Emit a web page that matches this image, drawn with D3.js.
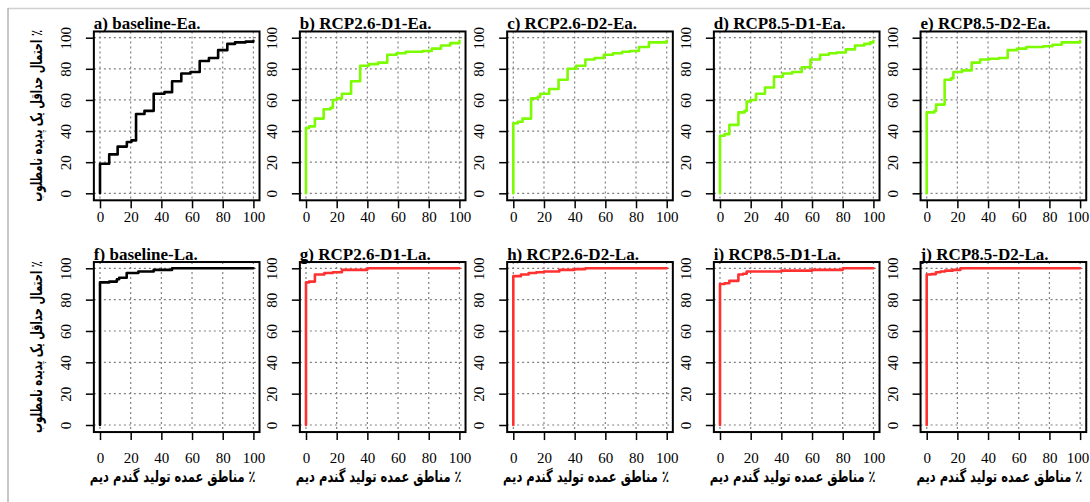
<!DOCTYPE html>
<html><head><meta charset="utf-8">
<script src="https://cdn.jsdelivr.net/npm/d3@7"></script>
<style>body{margin:0;background:#fff} svg{display:block}</style>
</head><body><svg id="c" width="1090" height="502"></svg>
<script>
// ---------------- data ----------------
const panelTitles = ["a) baseline-Ea.","b) RCP2.6-D1-Ea.","c) RCP2.6-D2-Ea.","d) RCP8.5-D1-Ea.","e) RCP8.5-D2-Ea.",
                     "f) baseline-La.","g) RCP2.6-D1-La.","h) RCP2.6-D2-La.","i) RCP8.5-D1-La.","j) RCP8.5-D2-La."];
const xTicks = [0,20,40,60,80,100];
const yTicks = [0,20,40,60,80,100];
const yAxisTitle = "٪ احتمال حداقل یک پدیده نامطلوب";
const xAxisTitle = "٪ مناطق عمده تولید گندم دیم";

// step points [x, y]: y holds from x until the next point
const baselineEa = [[0,0],[0,19],[6,25],[11.5,30],[17.5,33],[20.5,34],[23.5,51],[29,53],[35,64],[42,65],[47,72],[53,77],[59,78],[65,85],[71,87],[77,92],[83,96],[88,97],[95,97.5],[100,98]];
const rcp26D1Ea = [[0,0],[0,42],[2,43],[5.8,48],[11.5,54],[16,55],[17.5,60],[20,61],[23.4,64],[29.4,72],[35.3,82],[41,83],[47,84],[53,89],[59,90],[65,91],[76,91.5],[82,93],[88,95],[94,96.5],[100,98]];
const rcp26D2Ea = [[0,0],[0,45],[3,46],[6,48],[11.6,61],[16,62],[17.5,64],[23.4,67],[29.5,73],[35.4,80],[41,82],[47,86],[53,87],[59,89],[65,90],[71,91],[76,91.5],[81.9,94],[88.4,97],[100,98]];
const rcp85D1Ea = [[0,0],[0,37],[3,38],[6.1,44],[12,52],[16,53],[17.4,59],[20,60],[23.5,64],[29.3,68],[35.2,75],[41,77],[47,78],[53.3,81],[59,86],[65.2,89],[71,90],[76,90.5],[82,92.5],[88,95],[94,96],[98,97],[100,98]];
const rcp85D2Ea = [[0,0],[0,52],[5,53],[6.1,57],[11.7,73],[16,74],[17.4,78],[23,79],[29.3,84],[34.8,86],[41,86.5],[47,87],[52.8,92],[59,93],[65,94],[76,94.5],[82,95.5],[88,97],[100,98]];
const baselineLa = [[0,0],[0,91],[6,91.5],[11,93],[12.5,94],[17.4,97],[25,98],[35,99],[47,100],[100,100]];
const rcp26D1La = [[0,0],[0,91],[2,91.5],[5.8,96],[12,97],[17.5,97.5],[23.4,99],[40,100],[100,100]];
const rcp26D2La = [[0,0],[0,95],[5,96],[10,97],[15,97.5],[20,98],[30,99],[40,99.5],[47,100],[100,100]];
const rcp85D1La = [[0,0],[0,90],[3,90.5],[6.1,92],[12,96],[15,96.5],[17.4,98],[40,98.5],[60,99],[80,100],[100,100]];
const rcp85D2La = [[0,0],[0,96],[3,96.3],[6,97.5],[9,98],[12,98.5],[17,99],[22,100],[100,100]];

const series = [baselineEa, rcp26D1Ea, rcp26D2Ea, rcp85D1Ea, rcp85D2Ea,
                baselineLa, rcp26D1La, rcp26D2La, rcp85D1La, rcp85D2La];

// ---------------- layout / style ----------------
const colX0 = [100, 306, 513.3, 720, 926.7];
const xSpan = 153.4;
const rowY = [{y0:193.3, y100:37.7, lab:16.5}, {y0:425, y100:268.3, lab:26}];
const lineColors = ["#000000","#7CFC00","#7CFC00","#7CFC00","#7CFC00",
                    "#000000","#FF3030","#FF3030","#FF3030","#FF3030"];
const serif = "Liberation Serif, Times New Roman, serif";
const arab = "DejaVu Sans, sans-serif";

const svg = d3.select("#c");

// outer frame
svg.append("line").attr("x1",8).attr("x2",1090).attr("y1",8.5).attr("y2",8.5).attr("stroke","#d0d0d0").attr("stroke-width",1.5);
svg.append("line").attr("x1",8).attr("x2",8).attr("y1",8).attr("y2",502).attr("stroke","#b4b4b4").attr("stroke-width",1.5);

// horizontally compress a text to a target length (keeps glyph height)
function squeeze(sel, baseTransform, target){
  const w = sel.node().getComputedTextLength();
  const s = w > 0 ? Math.min(1, target / w) : 1;
  sel.attr("transform", `${baseTransform} scale(${s.toFixed(4)},1)`);
}

series.forEach((data, i) => {
  const col = i % 5, row = Math.floor(i / 5);
  const R = rowY[row];
  const x = d3.scaleLinear().domain([0,100]).range([colX0[col], colX0[col] + xSpan]);
  const y = d3.scaleLinear().domain([0,100]).range([R.y0, R.y100]);
  const bx0 = x(-4), bx1 = x(104), by0 = y(-4.5), by1 = y(104);
  const g = svg.append("g");

  // grid (dotted)
  g.selectAll("line.gx").data(xTicks).join("line")
    .attr("x1", d => x(d)).attr("x2", d => x(d)).attr("y1", by1).attr("y2", by0)
    .attr("stroke","#808080").attr("stroke-width",1.2).attr("stroke-dasharray","2,3");
  g.selectAll("line.gy").data(yTicks).join("line")
    .attr("y1", d => y(d)).attr("y2", d => y(d)).attr("x1", bx0).attr("x2", bx1)
    .attr("stroke","#808080").attr("stroke-width",1.2).attr("stroke-dasharray","2,3");

  // step line
  const line = d3.line().x(d => x(d[0])).y(d => y(d[1])).curve(d3.curveStepAfter);
  g.append("path").datum(data).attr("d", line)
    .attr("fill","none").attr("stroke", lineColors[i]).attr("stroke-width",2.6)
    .attr("stroke-linejoin","round").attr("stroke-linecap","round");

  // box
  g.append("rect").attr("x", bx0).attr("y", by1).attr("width", bx1 - bx0).attr("height", by0 - by1)
    .attr("fill","none").attr("stroke","#000").attr("stroke-width",2);

  // x axis
  const ax = g.append("g").attr("transform", `translate(0,${by0})`)
    .call(d3.axisBottom(x).tickValues(xTicks).tickSize(8).tickSizeOuter(0))
    .attr("font-family", serif).attr("font-size", 15);
  ax.select(".domain").remove();
  ax.selectAll(".tick line").attr("stroke","#000").attr("stroke-width",1.5);
  ax.selectAll(".tick text").attr("y", R.lab).attr("dy","0.35em").attr("fill","#000")
    .attr("dx", d => (col === 4 && d === 100) ? -2.5 : 0);

  // y axis
  const ay = g.append("g").attr("transform", `translate(${bx0},0)`)
    .call(d3.axisLeft(y).tickValues(yTicks).tickSize(8).tickSizeOuter(0))
    .attr("font-family", serif).attr("font-size", 15);
  ay.select(".domain").remove();
  ay.selectAll(".tick line").attr("stroke","#000").attr("stroke-width",1.5);
  ay.selectAll(".tick text").attr("x",0).attr("dy","0.35em").attr("text-anchor","middle")
    .attr("transform","translate(-28,0) rotate(-90)").attr("fill","#000");

  // title
  g.append("text").attr("x", bx0).attr("y", by1 - 2.3).text(panelTitles[i])
    .attr("font-family", serif).attr("font-size", 17).attr("font-weight","bold").attr("fill","#000");

  // y-axis title (first column)
  if (col === 0) {
    const t = g.append("text").attr("direction","rtl").style("unicode-bidi","embed")
      .attr("text-anchor","middle").attr("dy","0.35em")
      .attr("font-family", arab).attr("font-size", 16).attr("font-weight","bold").attr("fill","#000")
      .text(yAxisTitle);
    squeeze(t, `translate(36,${(by0 + by1)/2}) rotate(-90)`, 172);
  }
  // x-axis title (bottom row)
  if (row === 1) {
    const t = g.append("text").attr("direction","rtl").style("unicode-bidi","embed")
      .attr("text-anchor","middle").attr("dy","0.35em")
      .attr("font-family", arab).attr("font-size", 16).attr("font-weight","bold").attr("fill","#000")
      .text(xAxisTitle);
    squeeze(t, `translate(${x(50) - 4},476.7)`, 166);
  }
});
</script></body></html>
